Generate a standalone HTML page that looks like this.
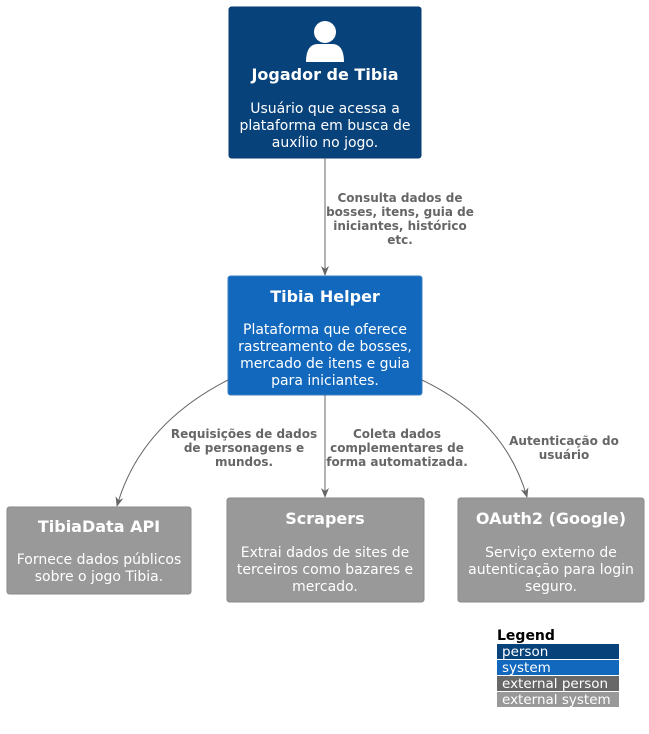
<!DOCTYPE html>
<html><head><meta charset="utf-8"><style>
html,body{margin:0;padding:0;background:#fff;width:649px;height:734px;overflow:hidden}
svg{display:block;font-family:"DejaVu Sans","Liberation Sans",sans-serif}
.t{font-size:16px;font-weight:bold;fill:#fff;text-anchor:middle}
.d{font-size:14px;fill:#fff;text-anchor:middle}
.l{font-size:12px;font-weight:bold;fill:#666;text-anchor:middle}
.lg{font-size:13.5px;fill:#fff}
</style></head><body>
<svg width="649" height="734" viewBox="0 0 649 734">
<defs><marker id="a" markerWidth="10" markerHeight="10" refX="9" refY="5" orient="auto" markerUnits="userSpaceOnUse"><path d="M0,1 L10,5 L0,9 L3,5 Z" fill="#666"/></marker></defs>
<!-- person -->
<rect x="229" y="7" width="192" height="151" rx="2.5" fill="#08427B" stroke="#073B6F"/>
<circle cx="325" cy="32" r="11" fill="#fff"/>
<path d="M306,62 Q306,44 318,44 L332,44 Q344,44 344,62 Z" fill="#fff"/>
<text class="t" x="325" y="80">Jogador de Tibia</text>
<text class="d" x="325" y="113">Usuário que acessa a</text>
<text class="d" x="325" y="130">plataforma em busca de</text>
<text class="d" x="325" y="147">auxílio no jogo.</text>
<!-- arrow 1 -->
<line x1="325" y1="158" x2="325" y2="275" stroke="#666" marker-end="url(#a)"/>
<text class="l" x="400" y="202">Consulta dados de</text>
<text class="l" x="400" y="216">bosses, itens, guia de</text>
<text class="l" x="400" y="230">iniciantes, histórico</text>
<text class="l" x="400" y="244">etc.</text>
<!-- helper -->
<rect x="228" y="276" width="194" height="119" rx="2.5" fill="#1168BD" stroke="#3C7FC0"/>
<text class="t" x="325" y="302">Tibia Helper</text>
<text class="d" x="325" y="334">Plataforma que oferece</text>
<text class="d" x="325" y="351">rastreamento de bosses,</text>
<text class="d" x="325" y="368">mercado de itens e guia</text>
<text class="d" x="325" y="385">para iniciantes.</text>
<!-- arrows -->
<path d="M228,380 Q140,425 117,506" fill="none" stroke="#666" marker-end="url(#a)"/>
<text class="l" x="244" y="438">Requisições de dados</text>
<text class="l" x="244" y="452">de personagens e</text>
<text class="l" x="244" y="466">mundos.</text>
<line x1="325" y1="395" x2="325" y2="497" stroke="#666" marker-end="url(#a)"/>
<text class="l" x="397" y="438">Coleta dados</text>
<text class="l" x="397" y="452">complementares de</text>
<text class="l" x="397" y="466">forma automatizada.</text>
<path d="M422,380 Q505,420 527,497" fill="none" stroke="#666" marker-end="url(#a)"/>
<text class="l" x="564" y="445">Autenticação do</text>
<text class="l" x="564" y="459">usuário</text>
<!-- externals -->
<rect x="7" y="507" width="184" height="87" rx="2.5" fill="#999999" stroke="#8A8A8A"/>
<text class="t" x="99" y="532">TibiaData API</text>
<text class="d" x="99" y="564">Fornece dados públicos</text>
<text class="d" x="99" y="581">sobre o jogo Tibia.</text>
<rect x="227" y="498" width="197" height="104" rx="2.5" fill="#999999" stroke="#8A8A8A"/>
<text class="t" x="325" y="524">Scrapers</text>
<text class="d" x="325" y="557">Extrai dados de sites de</text>
<text class="d" x="325" y="574">terceiros como bazares e</text>
<text class="d" x="325" y="591">mercado.</text>
<rect x="458" y="498" width="186" height="104" rx="2.5" fill="#999999" stroke="#8A8A8A"/>
<text class="t" x="551" y="524">OAuth2 (Google)</text>
<text class="d" x="551" y="557">Serviço externo de</text>
<text class="d" x="551" y="574">autenticação para login</text>
<text class="d" x="551" y="591">seguro.</text>
<!-- legend -->
<text x="497" y="640" font-size="14" font-weight="bold" fill="#000">Legend</text>
<rect x="497" y="644" width="122" height="15" fill="#08427B"/>
<text class="lg" x="502" y="656">person</text>
<rect x="497" y="660" width="122" height="15" fill="#1168BD"/>
<text class="lg" x="502" y="672">system</text>
<rect x="497" y="676" width="122" height="15" fill="#686868"/>
<text class="lg" x="502" y="688">external person</text>
<rect x="497" y="692" width="122" height="15" fill="#999999"/>
<text class="lg" x="502" y="704">external system</text>
</svg>
</body></html>
